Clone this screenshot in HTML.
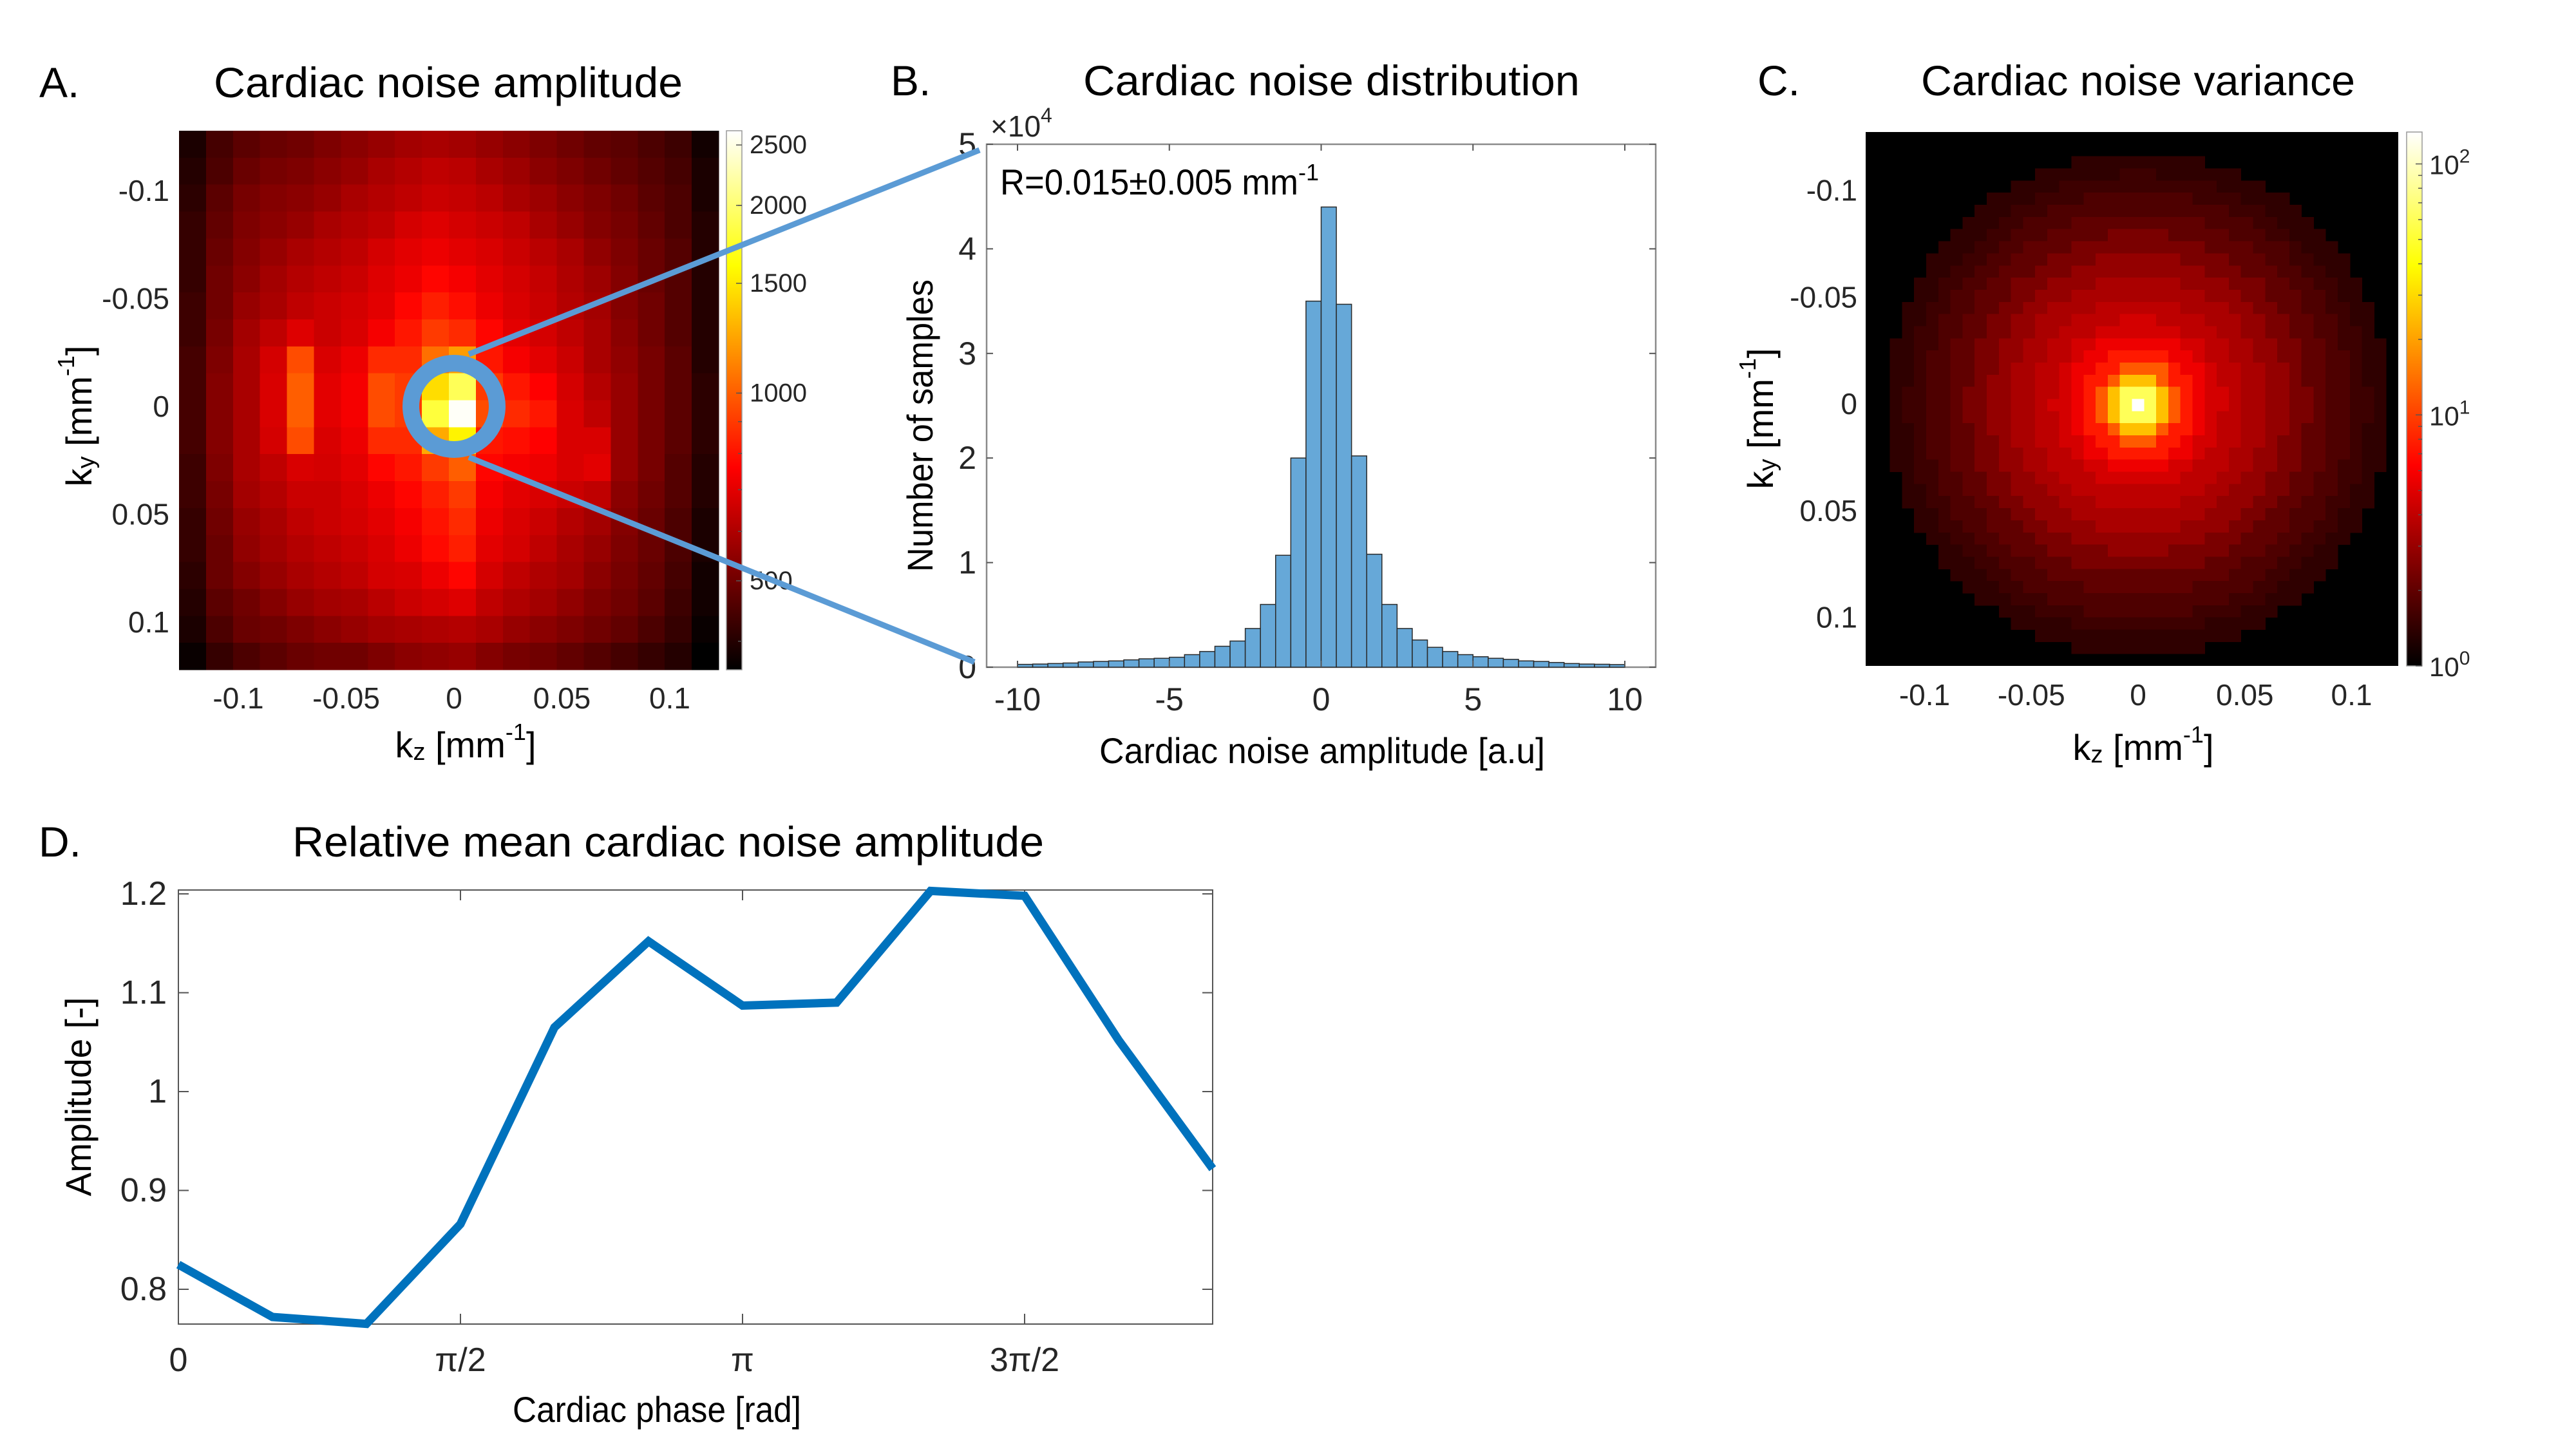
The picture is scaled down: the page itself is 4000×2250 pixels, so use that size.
<!DOCTYPE html>
<html><head><meta charset="utf-8"><style>
html,body{margin:0;padding:0;background:#fff;}
svg{display:block;}
text{font-family:"Liberation Sans",sans-serif;fill:#000;}
.tk{fill:#262626;}
</style></head>
<body>
<svg id="fig" xmlns="http://www.w3.org/2000/svg" width="4000" height="2250" viewBox="0 0 4000 2250">
<defs>
<linearGradient id="hotGrad" x1="0" y1="1" x2="0" y2="0">
<stop offset="0" stop-color="#000"/><stop offset="0.375" stop-color="#f00"/><stop offset="0.75" stop-color="#ff0"/><stop offset="1" stop-color="#fff"/>
</linearGradient>
</defs>
<g id="gA"></g>
<g id="gB"></g>
<g id="gC"></g>
<g id="gD"></g>
<g id="gL"></g>
</svg>
<script>
// ---------- DATA ----------
// Panel A: amplitude map (20x20 grid, rows top->bottom = ky -0.1275..0.1275)
const ampGrid = [
[390,440,470,490,500,520,540,560,580,590,580,560,540,520,500,480,470,450,430,380],
[400,450,490,510,520,540,560,590,610,630,620,590,570,540,520,500,480,460,440,390],
[410,470,510,530,540,560,590,610,630,650,640,620,590,570,540,520,500,470,450,390],
[420,480,520,540,560,590,610,630,670,690,670,650,630,590,560,530,510,480,450,400],
[420,490,530,560,590,610,630,670,700,720,700,680,650,620,590,550,520,490,460,400],
[420,500,540,580,610,630,650,690,720,770,740,700,670,640,600,570,530,490,460,400],
[430,500,560,590,630,650,670,700,770,830,790,720,680,650,610,580,530,500,460,400],
[430,510,580,630,690,650,680,740,810,900,860,770,700,670,630,590,540,500,460,400],
[440,520,590,670,950,680,720,860,860,1050,1200,810,740,700,650,590,550,510,470,400],
[440,530,590,680,1000,700,740,950,900,1450,1900,900,810,760,670,610,560,510,470,410],
[440,530,590,680,1000,700,740,950,900,1800,2600,950,860,810,680,630,560,510,470,410],
[440,530,590,670,950,680,720,860,860,1250,1550,810,790,760,680,680,560,510,470,410],
[430,520,590,630,680,670,700,770,810,900,1000,770,740,720,680,700,560,510,460,400],
[430,510,580,610,650,650,680,720,770,830,900,740,700,680,650,630,540,500,460,400],
[420,500,560,590,630,650,670,700,740,800,860,720,680,650,610,580,530,490,450,390],
[420,490,550,580,610,630,650,680,720,780,830,700,670,630,590,560,520,490,450,390],
[410,490,530,560,590,610,630,670,680,720,770,670,630,600,580,540,510,480,440,380],
[400,470,500,530,560,580,590,620,650,670,690,630,600,580,550,520,500,470,430,380],
[390,450,490,500,520,540,560,580,590,600,610,590,560,540,520,500,480,450,420,370],
[370,420,450,470,490,500,500,520,540,550,560,530,510,500,480,460,440,420,400,360]];
const ampLim = [360, 2635];
const ampCbTicks = [500, 1000, 1500, 2000, 2500];
const kTicks = [-0.1, -0.05, 0, 0.05, 0.1];
const kTickLabels = ["-0.1", "-0.05", "0", "0.05", "0.1"];

// Panel B: histogram
const binEdges = [-10,-9.5,-9,-8.5,-8,-7.5,-7,-6.5,-6,-5.5,-5,-4.5,-4,-3.5,-3,-2.5,-2,-1.5,-1,-0.5,0,0.5,1,1.5,2,2.5,3,3.5,4,4.5,5,5.5,6,6.5,7,7.5,8,8.5,9,9.5,10];
const binCounts = [0.027,0.03,0.035,0.04,0.05,0.055,0.06,0.07,0.08,0.085,0.095,0.12,0.15,0.2,0.25,0.37,0.6,1.07,2.0,3.5,4.4,3.47,2.02,1.08,0.6,0.37,0.26,0.19,0.15,0.12,0.1,0.085,0.075,0.06,0.055,0.045,0.035,0.03,0.028,0.025];
const histXTicks = [-10, -5, 0, 5, 10];
const histYTicks = [0, 1, 2, 3, 4, 5];

// Panel C: variance radial profile
const profR = [0.004,0.009,0.014,0.02,0.026,0.033,0.04,0.05,0.06,0.07,0.08,0.09,0.1,0.108,0.118];
const profV = [134,60,25,12,7.5,5.6,4.6,3.9,3.4,2.9,2.4,2.0,1.75,1.55,1.4];
const varLim = [1, 134];
const varCbTicks = [1, 10, 100];
const varCbLabels = ["0", "1", "2"];

// Panel D: relative mean amplitude
const phaseIdx = [0,1,2,3,4,5,6,7,8,9,10,11];
const relAmp = [0.825,0.772,0.765,0.866,1.065,1.152,1.087,1.090,1.203,1.198,1.052,0.922];
const dYTicks = [0.8, 0.9, 1.0, 1.1, 1.2];
const dYTickLabels = ["0.8", "0.9", "1", "1.1", "1.2"];
const dXTicks = [0, 0.5, 1, 1.5];
const dXTickLabels = ["0", "π/2", "π", "3π/2"];

// ---------- HELPERS ----------
const NS = "http://www.w3.org/2000/svg";
function mk(parent, tag, attrs, txt) {
  const e = document.createElementNS(NS, tag);
  for (const k in attrs) e.setAttribute(k, attrs[k]);
  if (txt !== undefined) e.textContent = txt;
  parent.appendChild(e);
  return e;
}
function hot(t) {
  t = Math.max(0, Math.min(1, t));
  const r = Math.min(1, t / 0.375), g = Math.max(0, Math.min(1, (t - 0.375) / 0.375)), b = Math.max(0, Math.min(1, (t - 0.75) / 0.25));
  return "rgb(" + Math.round(r * 255) + "," + Math.round(g * 255) + "," + Math.round(b * 255) + ")";
}
function logT(v, lim) { return (Math.log10(v) - Math.log10(lim[0])) / (Math.log10(lim[1]) - Math.log10(lim[0])); }

// ---------- PANEL A ----------
const gA = document.getElementById("gA");
const A = {x0: 278, x1: 1116, y0: 203, y1: 1040, cx: 705, cy: 631, s: 3350};
const xA = v => A.cx + v * A.s, yA = v => A.cy + v * A.s;
{
  const nR = ampGrid.length, nC = ampGrid[0].length;
  const kzMin = (A.x0 - A.cx) / A.s, kzMax = (A.x1 - A.cx) / A.s;
  const kyMin = (A.y0 - A.cy) / A.s, kyMax = (A.y1 - A.cy) / A.s;
  const dz = (kzMax - kzMin) / nC, dy = (kyMax - kyMin) / nR;
  const cells = mk(gA, "g", {"shape-rendering": "crispEdges"});
  
  
  for (let r = 0; r < nR; r++) for (let c = 0; c < nC; c++) {
    const x = xA(kzMin + c * dz), y = yA(kyMin + r * dy);
    const cell = mk(cells, "rect", {x: x, y: y, width: xA(kzMin + (c + 1) * dz) - x + 0.5, height: yA(kyMin + (r + 1) * dy) - y + 0.5, fill: hot(logT(ampGrid[r][c], ampLim))});
    
    
  }
  kTicks.forEach((k, i) => {
    const tl = mk(gA, "text", {x: xA(k), y: 1084, "font-size": 46, "text-anchor": "middle", "dominant-baseline": "central", class: "tk"}, kTickLabels[i]);
    
    
    const yl = mk(gA, "text", {x: 263, y: yA(k), "font-size": 46, "text-anchor": "end", "dominant-baseline": "central", class: "tk"}, kTickLabels[i]);
    
    
  });
  const cb = mk(gA, "rect", {x: 1128, y: 203, width: 24, height: 837, fill: "url(#hotGrad)", stroke: "#999", "stroke-width": 1.5});
  
  
  const yCbA = v => 1040 - logT(v, ampLim) * 837;
  [400,500,600,700,800,900,1000,2000].forEach(v => mk(gA, "line", {x1: 1146, x2: 1152, y1: yCbA(v), y2: yCbA(v), stroke: "#555", "stroke-width": 1.5}));
  ampCbTicks.forEach(v => {
    mk(gA, "line", {x1: 1143, x2: 1152, y1: yCbA(v), y2: yCbA(v), stroke: "#555", "stroke-width": 1.5});
    const t = mk(gA, "text", {x: 1164, y: yCbA(v), "font-size": 40, "dominant-baseline": "central", class: "tk"}, String(v));
    
    
  });
}

// ---------- PANEL C ----------
const gC = document.getElementById("gC");
const C = {x0: 2897, x1: 3724, y0: 205, y1: 1034, cx: 3320, cy: 627, s: 3315};
const xC = v => C.cx + v * C.s, yC = v => C.cy + v * C.s;
{
  mk(gC, "rect", {x: C.x0, y: C.y0, width: C.x1 - C.x0, height: C.y1 - C.y0, fill: "#000"});
  const n = 44;
  const kzMin = (C.x0 - C.cx) / C.s, kzMax = (C.x1 - C.cx) / C.s;
  const kyMin = (C.y0 - C.cy) / C.s, kyMax = (C.y1 - C.cy) / C.s;
  const dz = (kzMax - kzMin) / n, dy = (kyMax - kyMin) / n;
  const cells = mk(gC, "g", {"shape-rendering": "crispEdges"});
  
  
  for (let r = 0; r < n; r++) for (let c = 0; c < n; c++) {
    const kz = kzMin + (c + 0.5) * dz, ky = kyMin + (r + 0.5) * dy;
    const rad = Math.sqrt(kz * kz + ky * ky);
    let v = 1;
    for (let i = 0; i < profR.length; i++) { if (rad <= profR[i]) { v = profV[i]; break; } }
    if (v <= 1) continue;
    const x = xC(kzMin + c * dz), y = yC(kyMin + r * dy);
    const cell = mk(cells, "rect", {x: x, y: y, width: dz * C.s + 0.5, height: dy * C.s + 0.5, fill: hot(logT(v, varLim))});
    
    
  }
  kTicks.forEach((k, i) => {
    const tl = mk(gC, "text", {x: xC(k), y: 1079, "font-size": 46, "text-anchor": "middle", "dominant-baseline": "central", class: "tk"}, kTickLabels[i]);
    
    
    const yl = mk(gC, "text", {x: 2884, y: yC(k), "font-size": 46, "text-anchor": "end", "dominant-baseline": "central", class: "tk"}, kTickLabels[i]);
    
    
  });
  const cb = mk(gC, "rect", {x: 3737, y: 205, width: 24, height: 829, fill: "url(#hotGrad)", stroke: "#999", "stroke-width": 1.5});
  
  
  const yCbC = v => 1034 - logT(v, varLim) * 829;
  [2,3,4,5,6,7,8,9,20,30,40,50,60,70,80,90].forEach(v => mk(gC, "line", {x1: 3755, x2: 3761, y1: yCbC(v), y2: yCbC(v), stroke: "#555", "stroke-width": 1.5}));
  varCbTicks.forEach((v, i) => {
    mk(gC, "line", {x1: 3751, x2: 3761, y1: yCbC(v), y2: yCbC(v), stroke: "#555", "stroke-width": 1.5});
    const t = mk(gC, "text", {x: 3772, y: yCbC(v) + 16, "font-size": 42, class: "tk"});
    
    
    mk(t, "tspan", {}, "10");
    mk(t, "tspan", {dy: -18, "font-size": 30}, varCbLabels[i]);
  });
}

// ---------- PANEL B ----------
const gB = document.getElementById("gB");
const B = {x0: 1532, x1: 2571, y0: 224, y1: 1036};
const xB = v => 2051.5 + v * 47.15, yB = v => B.y1 - v * 162.4;
{
  mk(gB, "rect", {x: B.x0, y: B.y0, width: B.x1 - B.x0, height: B.y1 - B.y0, fill: "#fff", stroke: "#8a8a8a", "stroke-width": 2.5});
  for (let i = 0; i < binCounts.length; i++) {
    const x = xB(binEdges[i]), w = xB(binEdges[i + 1]) - x;
    const bar = mk(gB, "rect", {x: x, y: yB(binCounts[i]), width: w, height: yB(0) - yB(binCounts[i]), fill: "#66a8d8", stroke: "#2a2a2a", "stroke-width": 1.5});
    
    
  }
  histXTicks.forEach(v => {
    mk(gB, "line", {x1: xB(v), x2: xB(v), y1: B.y1, y2: B.y1 - 10, stroke: "#555", "stroke-width": 2});
    mk(gB, "line", {x1: xB(v), x2: xB(v), y1: B.y0, y2: B.y0 + 10, stroke: "#555", "stroke-width": 2});
    const t = mk(gB, "text", {x: xB(v), y: 1086, "font-size": 50, "text-anchor": "middle", "dominant-baseline": "central", class: "tk"}, String(v));
    
    
  });
  histYTicks.forEach(v => {
    mk(gB, "line", {x1: B.x0, x2: B.x0 + 10, y1: yB(v), y2: yB(v), stroke: "#555", "stroke-width": 2});
    mk(gB, "line", {x1: B.x1, x2: B.x1 - 10, y1: yB(v), y2: yB(v), stroke: "#555", "stroke-width": 2});
    const t = mk(gB, "text", {x: 1516, y: yB(v), "font-size": 50, "text-anchor": "end", "dominant-baseline": "central", class: "tk"}, String(v));
    
    
  });
  const ex = mk(gB, "text", {x: 1538, y: 212, "font-size": 46, class: "tk"});
  
  
  mk(ex, "tspan", {}, "×10");
  mk(ex, "tspan", {dy: -22, "font-size": 32}, "4");
  const rt = mk(gB, "text", {x: 1553, y: 302, "font-size": 56});
  
  
  mk(rt, "tspan", {textLength: 463, lengthAdjust: "spacingAndGlyphs"}, "R=0.015±0.005 mm");
  mk(rt, "tspan", {dy: -22, "font-size": 36}, "-1");
}

// ---------- PANEL D ----------
const gD = document.getElementById("gD");
const D = {x0: 277, x1: 1883, y0: 1382, y1: 2056};
const xD = ph => D.x0 + ph * 438 * 2;
const yD = v => 2002 - (v - 0.8) * 1535;
{
  mk(gD, "rect", {x: D.x0, y: D.y0, width: D.x1 - D.x0, height: D.y1 - D.y0, fill: "#fff", stroke: "#555", "stroke-width": 2});
  dXTicks.forEach((v, i) => {
    mk(gD, "line", {x1: xD(v), x2: xD(v), y1: D.y1, y2: D.y1 - 16, stroke: "#555", "stroke-width": 2});
    mk(gD, "line", {x1: xD(v), x2: xD(v), y1: D.y0, y2: D.y0 + 16, stroke: "#555", "stroke-width": 2});
    const t = mk(gD, "text", {x: xD(v), y: 2112, "font-size": 52, "text-anchor": "middle", "dominant-baseline": "central", class: "tk"}, dXTickLabels[i]);
    
    
  });
  dYTicks.forEach((v, i) => {
    mk(gD, "line", {x1: D.x0, x2: D.x0 + 16, y1: yD(v), y2: yD(v), stroke: "#555", "stroke-width": 2});
    mk(gD, "line", {x1: D.x1, x2: D.x1 - 16, y1: yD(v), y2: yD(v), stroke: "#555", "stroke-width": 2});
    const t = mk(gD, "text", {x: 259, y: yD(v), "font-size": 52, "text-anchor": "end", "dominant-baseline": "central", class: "tk"}, dYTickLabels[i]);
    
    
  });
  const pts = phaseIdx.map((k, i) => xD(k / 6) + "," + yD(relAmp[i])).join(" ");
  const line = mk(gD, "polyline", {points: pts, fill: "none", stroke: "#0072bd", "stroke-width": 13, "stroke-linejoin": "miter"});
  
  
}

// ---------- CONNECTOR ----------
const gL = document.getElementById("gL");
{
  const l1 = mk(gL, "line", {x1: 728, y1: 550, x2: 1521, y2: 233, stroke: "#5b9bd5", "stroke-width": 9});
  
  
  const l2 = mk(gL, "line", {x1: 728, y1: 710, x2: 1513, y2: 1028, stroke: "#5b9bd5", "stroke-width": 9});
  
  
  const ring = mk(gL, "circle", {cx: xA(0), cy: yA(0), r: 67, fill: "none", stroke: "#5b9bd5", "stroke-width": 26});
  
  
}

// ---------- TITLES & LABELS ----------
const svg = document.getElementById("fig");
function plain(name, x, y, size, txt, len) {
  const t = mk(svg, "text", {x: x, y: y, "font-size": size}, txt);
  if (len) { t.setAttribute("textLength", len); t.setAttribute("lengthAdjust", "spacingAndGlyphs"); }
  
  
  return t;
}
plain("panel-a-letter", 61, 151, 66, "A.");
plain("panel-a-title", 332, 151, 66, "Cardiac noise amplitude", 728);
plain("panel-b-letter", 1383, 148, 66, "B.");
plain("panel-b-title", 1682, 148, 66, "Cardiac noise distribution", 771);
plain("panel-c-letter", 2729, 148, 66, "C.");
plain("panel-c-title", 2983, 148, 66, "Cardiac noise variance", 674);
plain("panel-d-letter", 60, 1330, 66, "D.");
plain("panel-d-title", 454, 1330, 66, "Relative mean cardiac noise amplitude", 1167);

function kLabel(name, cx, cy, sub, rot) {
  const t = mk(svg, "text", {x: cx, y: cy, "font-size": 56, "text-anchor": "middle", "dominant-baseline": "central"});
  if (rot) t.setAttribute("transform", "rotate(-90 " + cx + " " + cy + ")");
  
  
  mk(t, "tspan", {}, "k");
  mk(t, "tspan", {dy: 12, "font-size": 38}, sub);
  mk(t, "tspan", {dy: -12}, " [mm");
  mk(t, "tspan", {dy: -20, "font-size": 36}, "-1");
  mk(t, "tspan", {dy: 20}, "]");
}
kLabel("panel-a-x-axis-title", 723, 1156, "z", false);
kLabel("panel-a-y-axis-title", 122, 646, "y", true);
kLabel("panel-c-x-axis-title", 3328, 1160, "z", false);
kLabel("panel-c-y-axis-title", 2733, 650, "y", true);

plain("panel-b-x-axis-title", 1707, 1185, 56, "Cardiac noise amplitude [a.u]", 692);
const by = mk(svg, "text", {x: 0, y: 0, "font-size": 56, "text-anchor": "middle", transform: "translate(1448 661) rotate(-90)", textLength: 454, lengthAdjust: "spacingAndGlyphs"}, "Number of samples");


plain("panel-d-x-axis-title", 796, 2208, 56, "Cardiac phase [rad]", 448);
const dyT = mk(svg, "text", {x: 0, y: 0, "font-size": 56, "text-anchor": "middle", transform: "translate(141 1703) rotate(-90)", textLength: 309, lengthAdjust: "spacingAndGlyphs"}, "Amplitude [-]");


</script>
</body></html>
